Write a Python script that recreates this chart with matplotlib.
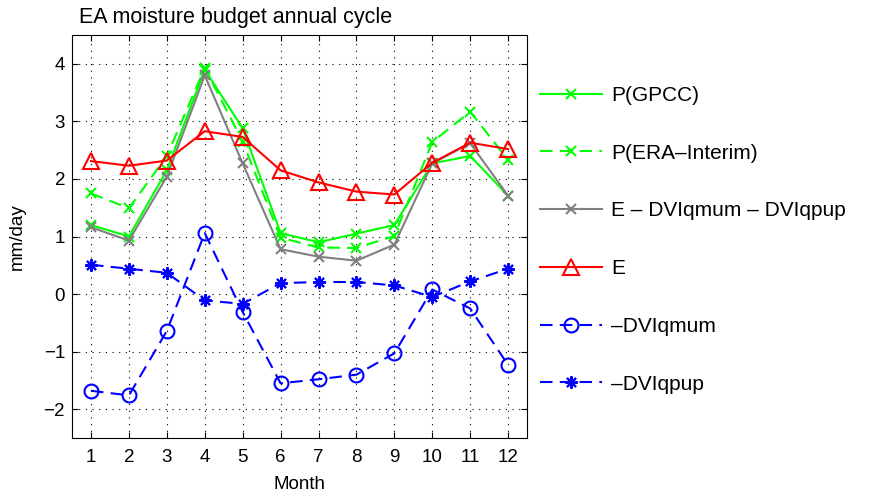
import matplotlib
matplotlib.use("Agg")
import matplotlib.pyplot as plt

plt.rcParams['font.family'] = ['Liberation Sans', 'DejaVu Sans']

months = [1, 2, 3, 4, 5, 6, 7, 8, 9, 10, 11, 12]
p_gpcc = [1.20, 1.00, 2.15, 3.90, 2.88, 1.06, 0.90, 1.05, 1.20, 2.27, 2.40, 1.71]
p_era = [1.75, 1.49, 2.40, 3.93, 2.65, 0.98, 0.81, 0.80, 1.01, 2.64, 3.17, 2.33]
resid = [1.16, 0.93, 2.04, 3.80, 2.27, 0.78, 0.65, 0.58, 0.86, 2.27, 2.62, 1.71]
evap = [2.31, 2.23, 2.32, 2.83, 2.73, 2.15, 1.94, 1.78, 1.73, 2.28, 2.63, 2.52]
dviqmum = [-1.68, -1.76, -0.64, 1.06, -0.31, -1.55, -1.48, -1.40, -1.03, 0.08, -0.25, -1.23]
dviqpup = [0.51, 0.44, 0.37, -0.11, -0.17, 0.19, 0.21, 0.21, 0.15, -0.05, 0.22, 0.44]

labels = ['P(GPCC)', 'P(ERA\u2013Interim)', 'E \u2013 DVIqmum \u2013 DVIqpup',
          'E', '\u2013DVIqmum', '\u2013DVIqpup']

fig = plt.figure(figsize=(8.69, 4.94), dpi=100)
ax = fig.add_axes([0.0829, 0.1134, 0.5236, 0.8156])

dash = (0, (6, 3.5))
lw = 1.5
ax.plot(months, p_gpcc, color='#00ff00', lw=lw, marker='x', ms=7, mew=1.5, label=labels[0])
ax.plot(months, p_era, color='#00ff00', lw=lw, ls=dash, marker='x', ms=7, mew=1.5, label=labels[1])
ax.plot(months, resid, color='#808080', lw=lw, marker='x', ms=7, mew=1.5, label=labels[2])
ax.plot(months, evap, color='red', lw=lw, marker='^', ms=11, mew=1.5, mfc='none', label=labels[3])
ax.plot(months, dviqmum, color='blue', lw=lw, ls=dash, marker='o', ms=10, mew=1.5, mfc='none', label=labels[4])
ax.plot(months, dviqpup, color='blue', lw=lw, ls=dash, marker=(8, 2, 0), ms=9, mew=1.5, label=labels[5])

ax.set_xlim(0.5, 12.5)
ax.set_ylim(-2.5, 4.5)
ax.set_xticks(months)
ax.set_yticks([-2, -1, 0, 1, 2, 3, 4])
ax.tick_params(direction='in', top=True, right=True, labelsize=13.5, length=4)
ax.tick_params(axis='x', pad=8)
ax.tick_params(axis='y', pad=5)
ax.grid(True, color='black', ls=(0, (1, 5)), lw=0.8)
for s in ax.spines.values():
    s.set_linewidth(0.8)

ax.set_xlabel('Month', fontsize=13.5, labelpad=7)
ax.set_ylabel('mm/day', fontsize=13.5, labelpad=13)
fig.text(0.091, 0.943, 'EA moisture budget annual cycle', fontsize=15.5, ha='left', va='bottom')

fig.legend(loc='upper left', bbox_to_anchor=(0.621, 0.826), frameon=False, fontsize=15,
           numpoints=1, handlelength=3.0, handletextpad=0.43, labelspacing=1.86,
           borderpad=0, borderaxespad=0)

fig.savefig('out.png', dpi=100)
